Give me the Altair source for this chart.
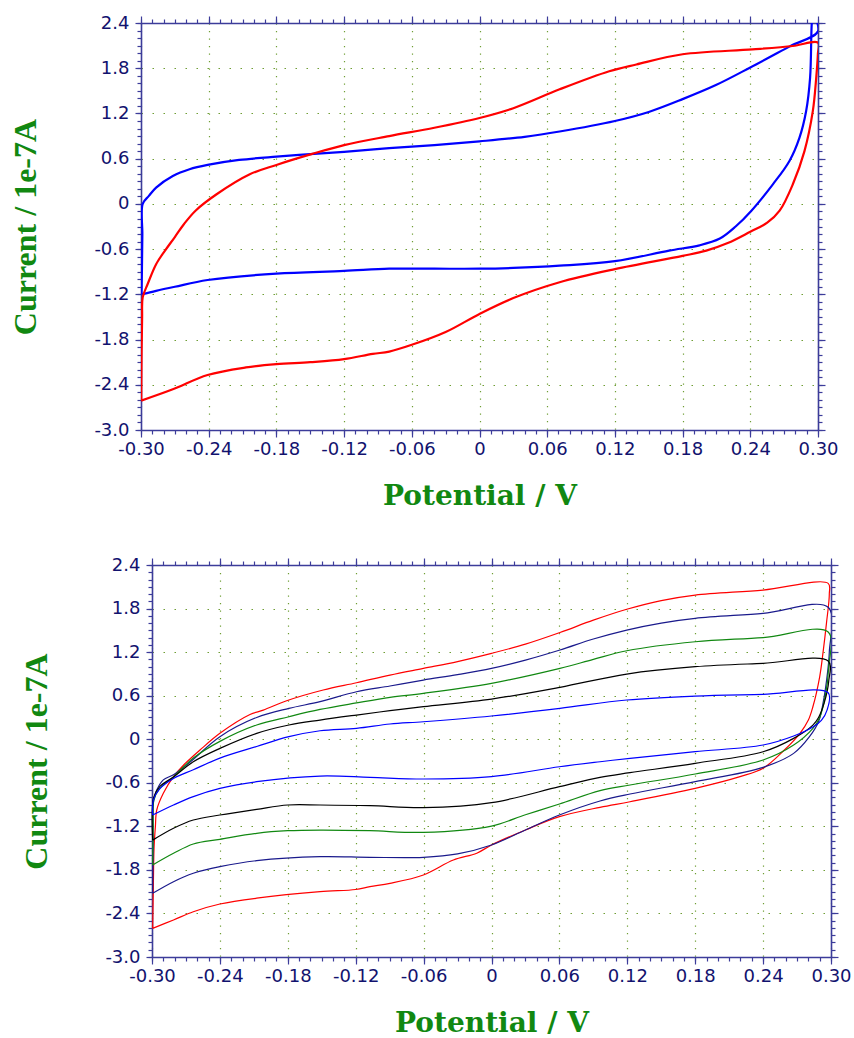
import altair as alt
import pandas as pd

# ---------------- data ----------------
# top panel: blue loop
top_blue_v = [-0.2995, -0.2992, -0.2988, -0.2985, -0.293, -0.2866, -0.2718, -0.257, -0.241, -0.213,
              -0.18, -0.15, -0.12, -0.08, -0.04, 0.0, 0.04, 0.071, 0.12, 0.15,
              0.18, 0.21, 0.24, 0.275, 0.30, 0.2955, 0.2945, 0.293, 0.2895, 0.2836,
              0.2747, 0.26, 0.241, 0.227, 0.213, 0.195, 0.168, 0.12, 0.071, 0.03,
              0.0, -0.04, -0.08, -0.12, -0.18, -0.241, -0.27, -0.2866, -0.2995]
top_blue_i = [-1.20, -0.90, -0.40, 0.0, 0.106, 0.216, 0.37, 0.46, 0.517, 0.583,
              0.627, 0.66, 0.69, 0.74, 0.78, 0.83, 0.89, 0.96, 1.10, 1.22,
              1.39, 1.58, 1.81, 2.09, 2.29, 2.52, 2.40, 1.675, 1.233, 0.88,
              0.57, 0.26, -0.09, -0.30, -0.46, -0.55, -0.62, -0.76, -0.82, -0.85,
              -0.86, -0.86, -0.86, -0.89, -0.925, -1.01, -1.10, -1.154, -1.20]
# top panel: red loop
top_red_v = [-0.2998, -0.2995, -0.299, -0.2985, -0.294, -0.2866, -0.2787, -0.27, -0.262, -0.2517,
             -0.233, -0.204, -0.18, -0.149, -0.12, -0.08, -0.04, 0.0, 0.03, 0.071,
             0.115, 0.139, 0.18, 0.242, 0.2777, 0.30, 0.2999, 0.2984, 0.2954, 0.288,
             0.2777, 0.266, 0.255, 0.24, 0.22, 0.201, 0.18, 0.12, 0.071, 0.03,
             0.0, -0.03, -0.06, -0.08, -0.0946, -0.12, -0.15, -0.18, -0.207, -0.241,
             -0.2718, -0.2998]
top_red_i = [-2.61, -2.0, -1.5, -1.24, -1.06, -0.80, -0.62, -0.44, -0.27, -0.09,
             0.128, 0.39, 0.517, 0.66, 0.78, 0.90, 1.01, 1.14, 1.27, 1.52,
             1.76, 1.85, 1.985, 2.05, 2.095, 2.14, 1.99, 1.67, 1.23, 0.70,
             0.26, -0.09, -0.25, -0.37, -0.52, -0.62, -0.69, -0.866, -1.04, -1.25,
             -1.46, -1.70, -1.87, -1.96, -1.99, -2.06, -2.10, -2.126, -2.17, -2.27,
             -2.46, -2.61]

# bottom panel: five loops
bot_red_v = [-0.2994, -0.2988, -0.2982, -0.297, -0.2958, -0.29, -0.281, -0.272, -0.2576, -0.24,
             -0.2134, -0.2017, -0.181, -0.1487, -0.1193, -0.0897, -0.0602, -0.03, 0.0, 0.03,
             0.0605, 0.09, 0.1195, 0.15, 0.18, 0.24, 0.2975,
             0.2985, 0.296, 0.293, 0.29, 0.284, 0.28, 0.2726, 0.2588, 0.24, 0.2196,
             0.18, 0.1224, 0.0959, 0.06, 0.03, 0.0, -0.013, -0.0337, -0.0602, -0.0897,
             -0.1074, -0.12, -0.1515, -0.2075, -0.24, -0.2635, -0.281, -0.2994]
bot_red_i = [-2.605, -2.0, -1.5, -1.2, -0.975, -0.745, -0.516, -0.355, -0.149, 0.081,
             0.34, 0.40, 0.53, 0.678, 0.778, 0.884, 0.976, 1.07, 1.183, 1.31,
             1.47, 1.64, 1.79, 1.91, 1.986, 2.055, 2.147,
             2.0, 1.6, 1.2, 0.86, 0.447, 0.264, 0.081, -0.149, -0.40, -0.516,
             -0.677, -0.861, -0.938, -1.067, -1.25, -1.457, -1.57, -1.664, -1.87, -1.985,
             -2.03, -2.07, -2.10, -2.19, -2.27, -2.376, -2.49, -2.605]
bot_navy_v = [-0.2994, -0.299, -0.2985, -0.2958, -0.29, -0.281, -0.266, -0.24, -0.2075, -0.179,
              -0.1515, -0.1193, -0.0897, -0.0602, -0.03, 0.0, 0.03, 0.0605, 0.09, 0.1195,
              0.15, 0.18, 0.24, 0.2975,
              0.2985, 0.296, 0.293, 0.289, 0.281, 0.267, 0.24, 0.18, 0.1224, 0.0959,
              0.06, 0.03, 0.0, -0.03, -0.0602, -0.1074, -0.1515, -0.2075, -0.24, -0.2635,
              -0.281, -0.2994]
bot_navy_i = [-2.123, -1.5, -0.84, -0.70, -0.56, -0.49, -0.31, 0.035, 0.30, 0.425,
              0.517, 0.654, 0.733, 0.815, 0.89, 0.976, 1.09, 1.229, 1.38, 1.504,
              1.60, 1.665, 1.734, 1.817,
              1.2, 0.8, 0.5, 0.24, 0.035, -0.195, -0.387, -0.585, -0.755, -0.851,
              -1.044, -1.25, -1.457, -1.58, -1.627, -1.627, -1.618, -1.673, -1.756, -1.847,
              -1.963, -2.123]
bot_green_v = [-0.2994, -0.299, -0.2985, -0.2944, -0.281, -0.2635, -0.24, -0.2075, -0.179, -0.1515,
               -0.1193, -0.0897, -0.0602, 0.0, 0.0605, 0.09, 0.1195, 0.18, 0.24, 0.2975,
               0.298, 0.295, 0.29, 0.284, 0.267, 0.24, 0.18, 0.1224, 0.0959, 0.06,
               0.03, 0.0, -0.0602, -0.1074, -0.1515, -0.18, -0.2075, -0.24, -0.2635, -0.281,
               -0.2994]
bot_green_i = [-1.733, -1.2, -0.85, -0.70, -0.52, -0.26, -0.03, 0.196, 0.31, 0.41,
               0.50, 0.577, 0.632, 0.77, 0.976, 1.10, 1.219, 1.343, 1.40, 1.478,
               1.0, 0.6, 0.3, 0.15, -0.08, -0.286, -0.479, -0.631, -0.709, -0.893,
               -1.04, -1.196, -1.283, -1.26, -1.251, -1.26, -1.296, -1.379, -1.443, -1.572,
               -1.733]
bot_black_v = [-0.2994, -0.2985, -0.293, -0.281, -0.2635, -0.24, -0.2075, -0.179, -0.1515, -0.1193,
               -0.0897, -0.0602, 0.0, 0.0605, 0.1195, 0.18, 0.24, 0.2975,
               0.298, 0.294, 0.289, 0.284, 0.267, 0.24, 0.18, 0.1224, 0.0959, 0.06,
               0.0, -0.0602, -0.1074, -0.1515, -0.18, -0.2075, -0.24, -0.2635, -0.281, -0.2994]
bot_black_i = [-1.39, -0.8, -0.65, -0.52, -0.31, -0.126, 0.081, 0.196, 0.264, 0.333,
               0.393, 0.448, 0.553, 0.715, 0.898, 0.999, 1.045, 1.077,
               0.8, 0.5, 0.3, 0.195, 0.012, -0.172, -0.332, -0.461, -0.525, -0.654,
               -0.874, -0.943, -0.916, -0.906, -0.906, -0.966, -1.044, -1.113, -1.227, -1.39]
bot_blue_v = [-0.2994, -0.2988, -0.293, -0.281, -0.2635, -0.24, -0.2075, -0.179, -0.1515, -0.1193,
              -0.0897, -0.0602, 0.0, 0.0605, 0.1195, 0.18, 0.24, 0.2975,
              0.2965, 0.2915, 0.2843, 0.267, 0.24, 0.18, 0.1224, 0.0959, 0.06, 0.0,
              -0.0602, -0.1074, -0.1515, -0.2075, -0.24, -0.2635, -0.281, -0.2994]
bot_blue_i = [-1.044, -0.84, -0.68, -0.54, -0.42, -0.26, -0.10, 0.035, 0.117, 0.15,
              0.21, 0.241, 0.32, 0.425, 0.54, 0.595, 0.618, 0.64,
              0.40, 0.26, 0.172, 0.044, -0.08, -0.172, -0.263, -0.31, -0.379, -0.516,
              -0.548, -0.525, -0.507, -0.585, -0.677, -0.79, -0.906, -1.044]

series_names = ["top blue", "top red", "bottom red", "bottom navy", "bottom green",
                "bottom black", "bottom blue"]
series_colors = ["#0000ff", "#ff0000", "#ff0000", "#1a1a8c", "#118811", "#000000", "#0000ff"]

x_major = [-0.30, -0.24, -0.18, -0.12, -0.06, 0.0, 0.06, 0.12, 0.18, 0.24, 0.30]
y_major = [-3.0, -2.4, -1.8, -1.2, -0.6, 0.0, 0.6, 1.2, 1.8, 2.4]
x_minor = [round(-0.30 + 0.01 * k, 2) for k in range(61)]
y_minor = [round(-3.0 + 0.1 * k, 1) for k in range(55)]


def loop_df(name, v, i):
    return pd.DataFrame({"series": name, "potential": v, "current": i, "idx": list(range(len(v)))})


top_df = pd.concat([loop_df("top blue", top_blue_v, top_blue_i),
                    loop_df("top red", top_red_v, top_red_i)], ignore_index=True)
bot_df = pd.concat([loop_df("bottom red", bot_red_v, bot_red_i),
                    loop_df("bottom navy", bot_navy_v, bot_navy_i),
                    loop_df("bottom green", bot_green_v, bot_green_i),
                    loop_df("bottom black", bot_black_v, bot_black_i),
                    loop_df("bottom blue", bot_blue_v, bot_blue_i)], ignore_index=True)

AXC = "#3c3c9a"
LBC = "#12126e"
GRID = "#6f9e35"
TITLE_C = "#118811"
LABEL_FONT = "DejaVu Sans"

x_lab = "datum.value == 0 ? '0' : (datum.value < 0 ? '-' : '') + format(abs(datum.value), '.2f')"
y_lab = "datum.value == 0 ? '0' : (datum.value < 0 ? '-' : '') + format(abs(datum.value), '.1f')"


def panel(df, width, height, xrange, yoff, sw):
    sc_kwargs = dict(domain=[-0.30, 0.30], nice=False, zero=False)
    if xrange:
        sc_kwargs["range"] = xrange
    xs = alt.Scale(**sc_kwargs)
    ys = alt.Scale(domain=[-3.0, 2.4], nice=False, zero=False)
    base = alt.Chart(df)

    ax_common = dict(domainColor=AXC, tickColor=AXC, domainWidth=1.6, tickWidth=1.2)

    main = base.mark_line(strokeWidth=sw, interpolate="catmull-rom", clip=True).encode(
        x=alt.X("potential:Q", scale=xs, axis=alt.Axis(
            orient="bottom", values=x_major, tickSize=7, labelExpr=x_lab, labelFlush=False,
            labelFont=LABEL_FONT, labelFontSize=18, labelColor=LBC, labelPadding=3,
            grid=True, gridColor=GRID, gridDash=[1.2, 6.3], gridWidth=1.2,
            title="Potential / V", titleFont="DejaVu Serif", titleFontSize=28, titleFontWeight="bold",
            titleColor=TITLE_C, titlePadding=24, **ax_common)),
        y=alt.Y("current:Q", scale=ys, axis=alt.Axis(
            orient="left", values=y_major, tickSize=6, labelExpr=y_lab, labelFlush=False,
            labelFont=LABEL_FONT, labelFontSize=18, labelColor=LBC, labelPadding=6, offset=yoff,
            grid=True, gridColor=GRID, gridDash=[1.5, 9.5], gridWidth=1.2,
            title="Current / 1e-7A", titleFont="Liberation Serif", titleFontSize=32,
            titleFontWeight="bold", titleColor=TITLE_C, titlePadding=51, **ax_common)),
        color=alt.Color("series:N", scale=alt.Scale(domain=series_names, range=series_colors),
                        legend=None),
        order="idx:Q",
    )

    def ghost(xaxis, yaxis):
        return base.mark_point(opacity=0).encode(
            x=alt.X("potential:Q", scale=xs, axis=xaxis),
            y=alt.Y("current:Q", scale=ys, axis=yaxis),
        )

    minor_bl = ghost(
        alt.Axis(orient="bottom", values=x_minor, tickSize=4, labels=False, domain=False, grid=False,
                 title=None, **ax_common),
        alt.Axis(orient="left", values=y_minor, tickSize=4, labels=False, domain=False, grid=False,
                 title=None, offset=yoff, **ax_common),
    )
    major_tr = ghost(
        alt.Axis(orient="top", values=x_major, tickSize=7, labels=False, domain=True, grid=False,
                 title=None, **ax_common),
        alt.Axis(orient="right", values=y_major, tickSize=7, labels=False, domain=True, grid=False,
                 title=None, **ax_common),
    )
    minor_tr = ghost(
        alt.Axis(orient="top", values=x_minor, tickSize=4, labels=False, domain=False, grid=False,
                 title=None, **ax_common),
        alt.Axis(orient="right", values=y_minor, tickSize=4, labels=False, domain=False, grid=False,
                 title=None, **ax_common),
    )
    return alt.layer(main, minor_bl, major_tr, minor_tr).resolve_axis(
        x="independent", y="independent"
    ).properties(width=width, height=height)


top = panel(top_df, 677, 407, None, 0, 2.2)
bottom = panel(bot_df, 690, 392, [11, 690], -11, 1.2)

chart = alt.vconcat(top, bottom, spacing=46).properties(
    padding={"left": 9, "top": 11, "right": 0, "bottom": 0},
    background="white",
).configure_view(strokeWidth=0)

chart.save("out.html", embed_options={"renderer": "svg", "actions": False})
